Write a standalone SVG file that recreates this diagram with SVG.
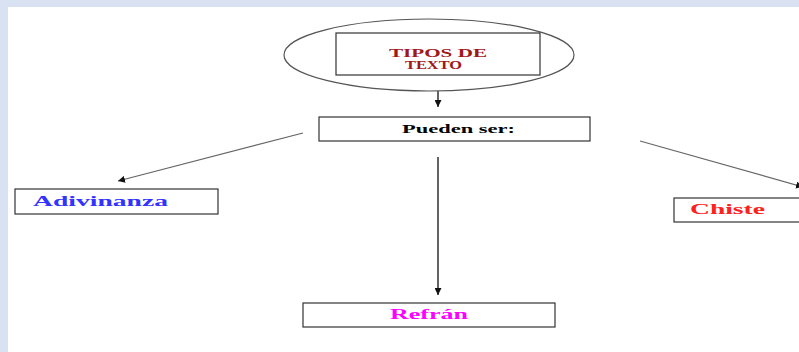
<svg xmlns="http://www.w3.org/2000/svg" width="799" height="352" viewBox="0 0 799 352">
<style>
.box{fill:#fff;stroke:#333;stroke-width:1.2}
.t{font-family:"Liberation Serif","Times New Roman",serif;font-weight:bold}
.con{stroke:#222;stroke-width:1.4;fill:none}
.gray{stroke:#666;stroke-width:1.2;fill:none}
</style>
<defs>
<marker id="ah" viewBox="0 0 10 10" refX="10" refY="5" markerWidth="7" markerHeight="7" markerUnits="userSpaceOnUse" orient="auto">
<path d="M0,0 L10,5 L0,10 z" fill="#111"/>
</marker>
</defs>
<rect x="0" y="0" width="799" height="352" fill="#d9e2f2"/>
<rect x="8" y="7" width="791" height="345" fill="#fff"/>
<g id="connectors">
<line class="con" x1="438" y1="91" x2="438" y2="107" marker-end="url(#ah)"/>
<line class="gray" x1="303" y1="133" x2="118" y2="181" marker-end="url(#ah)"/>
<line class="con" x1="438" y1="157" x2="438" y2="295" marker-end="url(#ah)"/>
<line class="gray" x1="640" y1="141" x2="803" y2="187" marker-end="url(#ah)"/>
</g>
<g id="tipos">
<ellipse cx="429" cy="55" rx="145" ry="36" fill="#fff" stroke="#555" stroke-width="1.2"/>
<rect class="box" x="336" y="33" width="204" height="42"/>
<text class="t" x="438" y="57" font-size="11.5" font-weight="600" fill="#a01818" text-anchor="middle" textLength="98" lengthAdjust="spacingAndGlyphs">TIPOS DE</text>
<text class="t" x="433.5" y="69" font-size="11.5" font-weight="600" fill="#a01818" text-anchor="middle" textLength="57" lengthAdjust="spacingAndGlyphs">TEXTO</text>
</g>
<g id="pueden">
<rect class="box" x="319" y="117" width="271" height="24"/>
<text class="t" x="458.5" y="133" font-size="13.5" fill="#000" text-anchor="middle" textLength="113" lengthAdjust="spacingAndGlyphs">Pueden ser:</text>
</g>
<g id="adivinanza">
<rect class="box" x="15" y="189" width="203" height="25"/>
<text class="t" x="100.5" y="206" font-size="14" fill="#3333ff" text-anchor="middle" textLength="135" lengthAdjust="spacingAndGlyphs">Adivinanza</text>
</g>
<g id="chiste">
<rect class="box" x="674" y="198" width="130" height="24"/>
<text class="t" x="727.5" y="214" font-size="15.5" fill="#ff2020" text-anchor="middle" textLength="75" lengthAdjust="spacingAndGlyphs">Chiste</text>
</g>
<g id="refran">
<rect class="box" x="303" y="303" width="252" height="24"/>
<text class="t" x="429" y="319" font-size="15" fill="#ff00ff" text-anchor="middle" textLength="78" lengthAdjust="spacingAndGlyphs">Refrán</text>
</g>
</svg>
